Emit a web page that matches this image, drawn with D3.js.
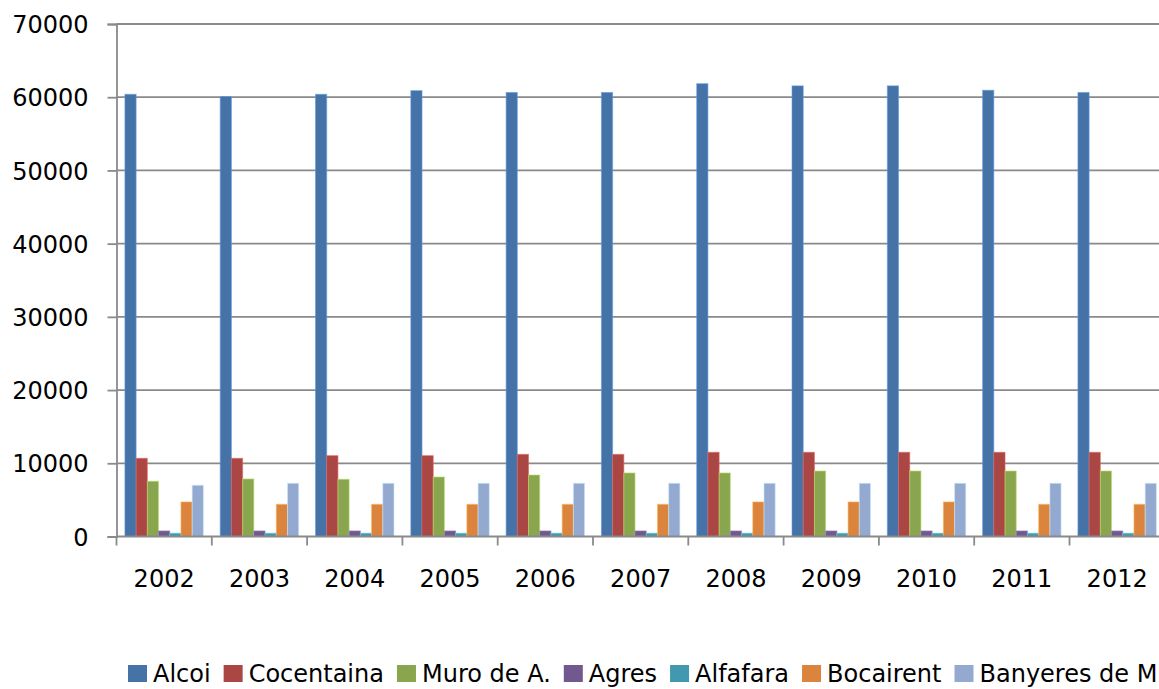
<!DOCTYPE html>
<html>
<head>
<meta charset="utf-8">
<script src="https://cdn.jsdelivr.net/npm/d3@7"></script>
<style>
    html, body { margin: 0; padding: 0; background: #fff; }
    svg text { font-family: "DejaVu Sans", Verdana, sans-serif; fill: #000; }
</style>
</head>
<body>
<svg id="chart" width="1159" height="689"></svg>
<script>
// years on the x axis
const years = ["2002", "2003", "2004", "2005", "2006", "2007", "2008", "2009", "2010", "2011", "2012"]

// towns, one series each
const towns = ["Alcoi", "Cocentaina", "Muro de A.", "Agres", "Alfafara", "Bocairent", "Banyeres de M."]
const townColors = ["#4572A7", "#AA4643", "#89A54E", "#71588F", "#4198AF", "#DB843D", "#93A9CF"]

// population per town
const alcoi      = [60400, 60100, 60400, 60900, 60650, 60650, 61850, 61550, 61550, 60950, 60650]
const cocentaina = [10680, 10680, 11040, 11040, 11220, 11220, 11500, 11500, 11500, 11500, 11500]
const muro       = [7550, 7860, 7820, 8130, 8400, 8680, 8680, 8950, 8950, 8950, 8950]
const agres      = [760, 760, 760, 760, 760, 760, 760, 760, 760, 760, 760]
const alfafara   = [450, 450, 450, 450, 450, 450, 450, 450, 450, 450, 450]
const bocairent  = [4720, 4400, 4400, 4400, 4400, 4400, 4720, 4720, 4720, 4400, 4400]
const banyeres   = [7000, 7270, 7270, 7270, 7270, 7270, 7270, 7270, 7270, 7270, 7270]

const seriesValues = [alcoi, cocentaina, muro, agres, alfafara, bocairent, banyeres]

const yTicks = [0, 10000, 20000, 30000, 40000, 50000, 60000, 70000]

const svg = d3.select("#chart")

const plot = {left: 116.5, right: 1164.8, top: 24, bottom: 536.5}
const gridColor = "#8a8a8a"

const x0 = d3.scaleBand()
    .domain(years)
    .range([plot.left, plot.right])
    .padding(0)

const x1 = d3.scaleBand()
    .domain(towns)
    .range([0, x0.bandwidth()])
    .paddingInner(0)
    .paddingOuter(0.75)

const y = d3.scaleLinear()
    .domain([0, 70000])
    .range([plot.bottom, plot.top])

const color = d3.scaleOrdinal().domain(towns).range(townColors)

// horizontal gridlines
svg.append("g")
    .selectAll("line")
    .data(yTicks.slice(1))
    .enter()
    .append("line")
    .attr("x1", plot.left)
    .attr("x2", plot.right)
    .attr("y1", d => y(d))
    .attr("y2", d => y(d))
    .attr("stroke", gridColor)
    .attr("stroke-width", 1.8)

// bars
const rows = years.map((yr, i) => ({year: yr, values: towns.map((t, j) => ({town: t, value: seriesValues[j][i]}))}))

svg.append("g")
    .selectAll("g")
    .data(rows)
    .enter()
    .append("g")
    .attr("transform", d => `translate(${x0(d.year)},0)`)
    .selectAll("rect")
    .data(d => d.values)
    .enter()
    .append("rect")
    .attr("x", d => x1(d.town))
    .attr("width", x1.bandwidth())
    .attr("y", d => y(d.value))
    .attr("height", d => y(0) - y(d.value))
    .attr("fill", d => color(d.town))
    .attr("stroke", d => d3.color(color(d.town)).brighter(0.9))
    .attr("stroke-opacity", 0.6)
    .attr("stroke-width", 1)

// y axis
const yAxis = svg.append("g")
    .attr("transform", `translate(${plot.left},0)`)
    .call(d3.axisLeft(y).tickValues(yTicks).tickFormat(d3.format("d")).tickSize(9).tickPadding(19))
yAxis.select(".domain").attr("stroke", gridColor).attr("stroke-width", 1.8)
yAxis.selectAll(".tick line").attr("stroke", gridColor).attr("stroke-width", 1.8)
yAxis.selectAll("text")
    .attr("font-size", 24)
    .attr("font-family", "DejaVu Sans, Verdana, sans-serif")
    .attr("dy", "0.36em")

// x axis: ticks at category boundaries, labels centred
const xg = svg.append("g")
xg.append("line")
    .attr("x1", plot.left)
    .attr("x2", plot.right)
    .attr("y1", y(0))
    .attr("y2", y(0))
    .attr("stroke", gridColor)
    .attr("stroke-width", 1.8)
xg.selectAll("line.tick")
    .data(years)
    .enter()
    .append("line")
    .classed("tick", true)
    .attr("x1", d => x0(d))
    .attr("x2", d => x0(d))
    .attr("y1", y(0))
    .attr("y2", y(0) + 9)
    .attr("stroke", gridColor)
    .attr("stroke-width", 1.8)
xg.selectAll("text")
    .data(years)
    .enter()
    .append("text")
    .attr("x", d => x0(d) + x0.bandwidth() / 2)
    .attr("y", 587)
    .attr("text-anchor", "middle")
    .attr("font-size", 24)
    .text(d => d)

// legend along the bottom, runs off the right edge like the original
const legend = svg.append("g").attr("transform", "translate(128,0)")
let cursor = 0
towns.forEach(t => {
    const item = legend.append("g").attr("transform", `translate(${cursor},0)`)
    item.append("rect")
        .attr("x", 0)
        .attr("y", 665)
        .attr("width", 19)
        .attr("height", 17)
        .attr("fill", color(t))
    const label = item.append("text")
        .attr("x", 25)
        .attr("y", 682)
        .attr("font-size", 24)
        .text(t)
    cursor += 25 + label.node().getComputedTextLength() + 13
})
</script>
</body>
</html>
